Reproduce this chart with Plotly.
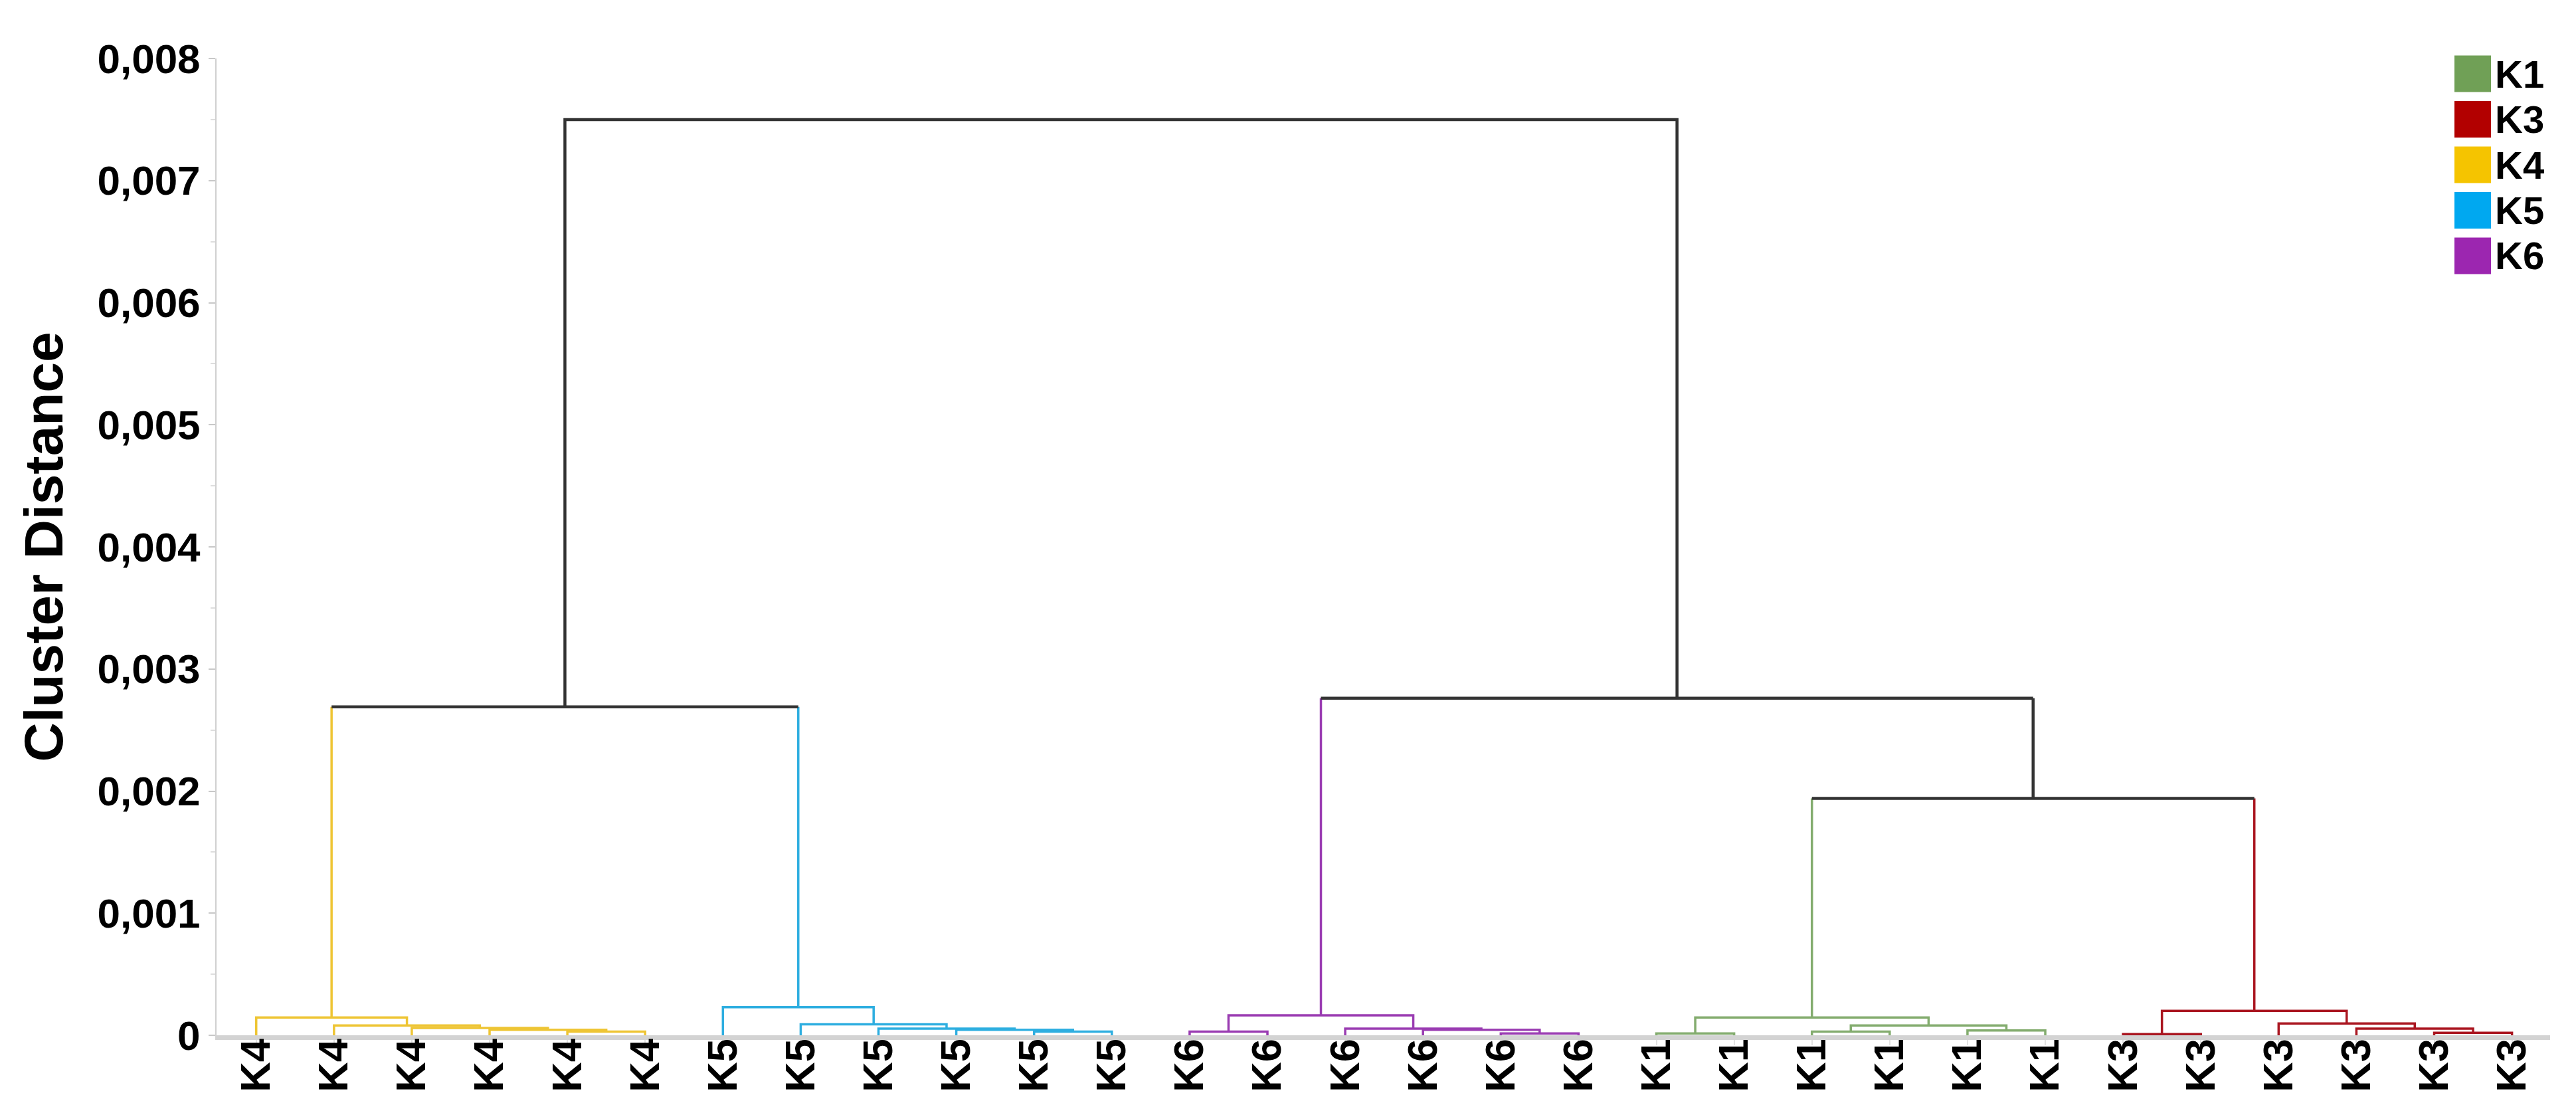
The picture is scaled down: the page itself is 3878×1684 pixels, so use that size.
import plotly.graph_objects as go

# Leaves in dendrogram order
leaf_labels = ["K4", "K4", "K4", "K4", "K4", "K4",
               "K5", "K5", "K5", "K5", "K5", "K5",
               "K6", "K6", "K6", "K6", "K6", "K6",
               "K1", "K1", "K1", "K1", "K1", "K1",
               "K3", "K3", "K3", "K3", "K3", "K3"]

# Linkage: node ids 0..29 are leaves, merge i creates node 30 + i
merge_left = [4, 3, 2, 1, 0,
              10, 9, 8, 7, 6,
              16, 12, 15, 14, 41,
              18, 20, 22, 46, 45,
              24, 28, 27, 26, 50,
              49, 34, 44, 56]
merge_right = [5, 30, 31, 32, 33,
               11, 35, 36, 37, 38,
               17, 13, 40, 42, 43,
               19, 21, 23, 47, 48,
               25, 29, 51, 52, 53,
               54, 39, 55, 57]
merge_height = [0.00003, 0.000045, 0.00006, 0.00008, 0.000145,
                0.00003, 0.000045, 0.000055, 0.00009, 0.00023,
                0.000015, 0.00003, 0.000045, 0.000055, 0.000163,
                0.000015, 0.00003, 0.00004, 0.00008, 0.000145,
                0.00001, 0.00002, 0.000055, 0.000096, 0.0002,
                0.00194, 0.00269, 0.00276, 0.0075]

cluster_names = ["K1", "K3", "K4", "K5", "K6"]
legend_colors = ["#70A056", "#B20000", "#F5C400", "#00A8F0", "#9C26B0"]
line_colors = ["#83AC6E", "#AA1620", "#EEC534", "#2EAEE0", "#9A3CB2"]
link_color = "#333333"

y_tick_vals = [0, 0.001, 0.002, 0.003, 0.004, 0.005, 0.006, 0.007, 0.008]
y_tick_text = ["0", "0,001", "0,002", "0,003", "0,004", "0,005", "0,006", "0,007", "0,008"]

line_of = dict(zip(cluster_names, line_colors))

# positions / colours of every node
node_x = list(range(len(leaf_labels)))
node_h = [0.0] * len(leaf_labels)
node_c = [line_of[lab] for lab in leaf_labels]

segs = {}


def add_seg(color, xs, ys):
    d = segs.setdefault(color, ([], []))
    d[0].extend(xs + [None])
    d[1].extend(ys + [None])


for l, r, h in zip(merge_left, merge_right, merge_height):
    xl, xr = node_x[l], node_x[r]
    c = node_c[l] if node_c[l] == node_c[r] else link_color
    if node_c[l] == c and node_c[r] == c:
        add_seg(c, [xl, xl, xr, xr], [node_h[l], h, h, node_h[r]])
    else:
        add_seg(node_c[l], [xl, xl], [node_h[l], h])
        add_seg(node_c[r], [xr, xr], [node_h[r], h])
        add_seg(c, [xl, xr], [h, h])
    node_x.append((xl + xr) / 2)
    node_h.append(h)
    node_c.append(c)

fig = go.Figure()
for color, (xs, ys) in segs.items():
    fig.add_trace(go.Scatter(
        x=xs, y=ys, mode="lines",
        line=dict(color=color, width=4.5 if color == link_color else 3.5),
        hoverinfo="skip", showlegend=False,
    ))

font_family = "Liberation Sans"

fig.update_layout(
    width=3878, height=1684,
    margin=dict(l=318, r=47, t=80, b=134),
    plot_bgcolor="white", paper_bgcolor="white",
    showlegend=False,
    font=dict(family=font_family, color="black"),
)

fig.update_xaxes(
    range=[-0.51, len(leaf_labels) - 0.51],
    tickmode="array",
    tickvals=list(range(len(leaf_labels))),
    ticktext=leaf_labels,
    tickangle=-90,
    tickfont=dict(family=font_family, size=63, color="black", weight="bold"),
    ticks="outside", ticklen=8, tickwidth=2, tickcolor="#E2E2E2",
    ticklabelstandoff=-35,
    showline=True, linecolor="#D3D3D3", linewidth=7,
    showgrid=False, zeroline=False,
    layer="below traces",
    automargin=False,
)

fig.update_yaxes(
    range=[0, 0.008],
    tickmode="array",
    tickvals=y_tick_vals,
    ticktext=y_tick_text,
    tickfont=dict(family=font_family, size=62, color="black", weight="bold"),
    ticks="outside", ticklen=10, tickwidth=2, tickcolor="#C8C8C8",
    minor=dict(tickvals=[v + 0.0005 for v in y_tick_vals[:-1]],
               ticks="outside", ticklen=7, tickwidth=2, tickcolor="#DDDDDD"),
    showline=True, linecolor="#D0D0D0", linewidth=2,
    showgrid=False, zeroline=False,
    title=dict(text="Cluster Distance",
               font=dict(family=font_family, size=82, color="black", weight="bold"),
               standoff=25),
    automargin=False,
)

# legend drawn by hand so the swatches can be as large as the original
plot_l, plot_w = 318, 3878 - 318 - 47
plot_b, plot_h = 1684 - 134, 1684 - 80 - 134
sq_left, sq_size, row0, row_step = 3687, 55, 103, 68.5
for i, (name, col) in enumerate(zip(cluster_names, legend_colors)):
    cy = row0 + i * row_step
    fig.add_shape(
        type="rect", xref="paper", yref="paper",
        x0=(sq_left - plot_l) / plot_w, x1=(sq_left + sq_size - plot_l) / plot_w,
        y0=(plot_b - cy - sq_size / 2) / plot_h, y1=(plot_b - cy + sq_size / 2) / plot_h,
        fillcolor=col, line=dict(width=0),
    )
    fig.add_annotation(
        xref="paper", yref="paper",
        x=(sq_left + sq_size + 4 - plot_l) / plot_w, y=(plot_b - cy) / plot_h,
        xanchor="left", yanchor="middle", showarrow=False,
        text=name, font=dict(family=font_family, size=58, color="black", weight="bold"),
    )

fig.write_html("out.html")
